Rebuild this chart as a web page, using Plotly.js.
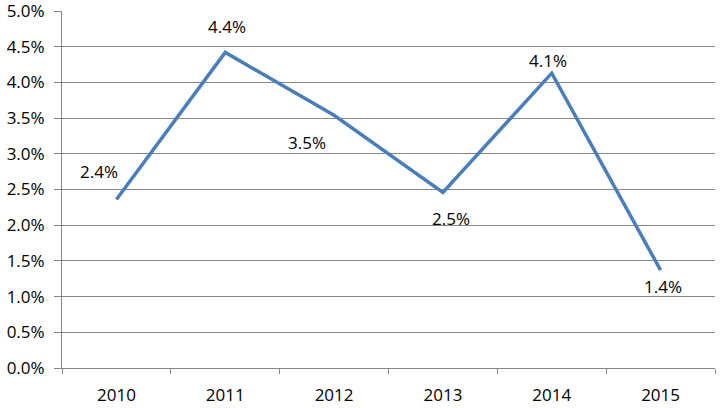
<!DOCTYPE html>
<html><head><meta charset="utf-8">
<script src="https://cdn.plot.ly/plotly-3.0.1.min.js"></script>
<style>html,body{margin:0;padding:0;background:#fff}#chart{width:723px;height:408px}</style>
</head><body><div id="chart"></div>
<script>
const years = ['2010','2011','2012','2013','2014','2015'];
const values = [2.36, 4.42, 3.54, 2.46, 4.13, 1.37];
const labels = ['2.4%','4.4%','3.5%','2.5%','4.1%','1.4%'];
const yTicks = [0,0.5,1,1.5,2,2.5,3,3.5,4,4.5,5];

const labelShift = [[-17,28],[2,26],[-27,-27],[8,-26],[-4,13],[2,-16]];
const mkFont = () => ({family:'"Open Sans", sans-serif', size:17, color:'#000'});
const annotations = years.map((y,i)=>({
  x:i, y:values[i], xref:'x', yref:'y', text:labels[i], showarrow:false,
  xanchor:'center', yanchor:'middle',
  xshift:labelShift[i][0], yshift:labelShift[i][1], font:mkFont()
}));

Plotly.newPlot('chart',[{
  x:years, y:values, type:'scatter', mode:'lines',
  line:{color:'#4A7EBB', width:3.5}, hoverinfo:'none'
}],{
  width:723, height:408,
  margin:{l:62, r:8, t:11, b:40},
  paper_bgcolor:'#fff', plot_bgcolor:'#fff',
  showlegend:false,
  font:mkFont(),
  xaxis:{type:'category', range:[-0.5,5.5], showgrid:false, showline:true, linecolor:'#868686', linewidth:1,
    ticks:'outside', tickson:'boundaries', ticklen:5, tickcolor:'#868686', tickfont:mkFont(), ticklabelstandoff:12,
    ticklabeloverflow:'allow', zeroline:false, fixedrange:true},
  yaxis:{range:[0,5], tickvals:yTicks, ticktext:yTicks.map(v=>v.toFixed(1)+'%'), showgrid:true, gridcolor:'#868686', gridwidth:1,
    ticklabeloverflow:'allow', ticklabelstandoff:6,
    showline:true, linecolor:'#868686', ticks:'outside', ticklen:7, tickcolor:'#868686', tickfont:mkFont(), zeroline:false, fixedrange:true},
  annotations:annotations
},{displayModeBar:false});
</script></body></html>
